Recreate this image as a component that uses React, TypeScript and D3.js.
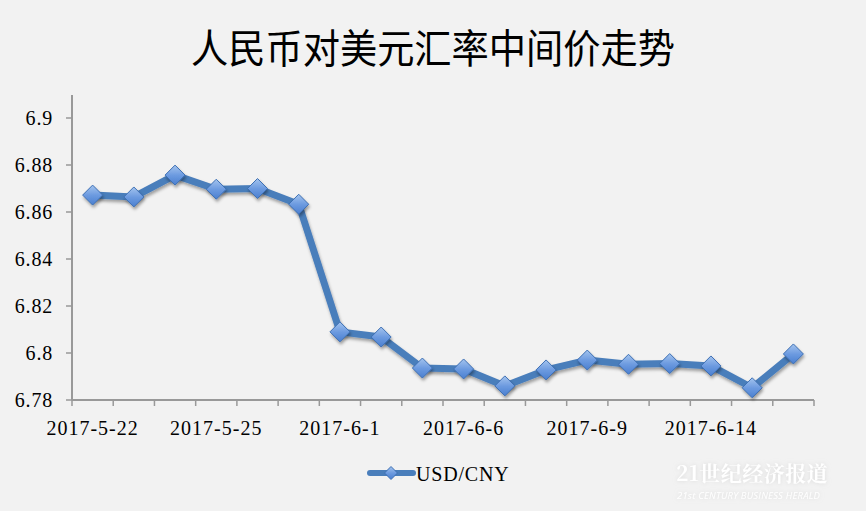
import React from "react";
import * as d3 from "d3";

const title = "人民币对美元汇率中间价走势";
const dates = [
  "2017-5-22", "2017-5-23", "2017-5-24", "2017-5-25", "2017-5-26", "2017-5-31",
  "2017-6-1", "2017-6-2", "2017-6-5", "2017-6-6", "2017-6-7", "2017-6-8",
  "2017-6-9", "2017-6-12", "2017-6-13", "2017-6-14", "2017-6-15", "2017-6-16",
];
const shownLabels = ["2017-5-22", "2017-5-25", "2017-6-1", "2017-6-6", "2017-6-9", "2017-6-14"];
const usdCny = [
  6.8672, 6.8664, 6.8757, 6.8697, 6.87, 6.8633,
  6.809, 6.8068, 6.7936, 6.7932, 6.786, 6.7928,
  6.797, 6.7952, 6.7955, 6.7945, 6.7852, 6.7996,
];
const yTicks = [6.78, 6.8, 6.82, 6.84, 6.86, 6.88, 6.9];
const seriesName = "USD/CNY";

const W = 866, H = 511;
const left = 72, right = 814, top = 95, bottom = 400;

export default function App() {
  const x = d3.scaleBand<string>().domain(dates).range([left, right]);
  const y = d3.scaleLinear().domain([6.78, 6.9]).range([bottom, 118]);
  const cx = (d: string) => (x(d) as number) + x.bandwidth() / 2;
  const line = d3.line<number>().x((_, i) => cx(dates[i])).y((v) => y(v));
  const diamond = (px: number, py: number, r: number) =>
    `M${px},${py - r}L${px + r},${py}L${px},${py + r}L${px - r},${py}Z`;
  const serif = "'Liberation Serif', 'DejaVu Serif', serif";
  const axisColor = "#999999";

  return (
    <svg width={W} height={H} style={{ position: "absolute", left: 0, top: 0, display: "block" }}>
      <defs>
        <linearGradient id="mk" x1="0" y1="0" x2="0" y2="1">
          <stop offset="0" stopColor="#a4c4ee" />
          <stop offset="0.5" stopColor="#6d9be0" />
          <stop offset="1" stopColor="#4a7fd0" />
        </linearGradient>
        <filter id="sh" x="-50%" y="-50%" width="200%" height="200%">
          <feDropShadow dx="1" dy="2.5" stdDeviation="1.6" floodColor="#000" floodOpacity="0.35" />
        </filter>
        <filter id="wm" x="-10%" y="-30%" width="120%" height="160%">
          <feDropShadow dx="0" dy="0" stdDeviation="2" floodColor="#c8c8c8" floodOpacity="0.6" />
        </filter>
      </defs>
      <rect x={0} y={0} width={W} height={H} fill="#f2f2f2" />
      <text x={433} y={60} textAnchor="middle" fontFamily="'Noto Sans CJK SC', sans-serif" fontSize={38} fill="#000"
        transform="translate(433,0) scale(0.98,1.05) translate(-433,0)">
        {title}
      </text>

      {/* y axis */}
      <line x1={left} x2={left} y1={top} y2={bottom} stroke={axisColor} strokeWidth={2} />
      {yTicks.map((t) => (
        <g key={t}>
          <line x1={left - 6} x2={left} y1={y(t)} y2={y(t)} stroke={axisColor} strokeWidth={1.5} />
          <text x={53} y={y(t)} dy="0.34em" textAnchor="end" fontFamily={serif} fontSize={20} letterSpacing={0.8} fill="#000">
            {String(t)}
          </text>
        </g>
      ))}

      {/* x axis */}
      <line x1={left} x2={right} y1={bottom} y2={bottom} stroke={axisColor} strokeWidth={2} />
      {dates.map((d) => (
        <line key={d} x1={x(d) as number} x2={x(d) as number} y1={bottom} y2={bottom + 6} stroke={axisColor} strokeWidth={1.5} />
      ))}
      <line x1={right} x2={right} y1={bottom} y2={bottom + 6} stroke={axisColor} strokeWidth={1.5} />
      {shownLabels.map((d) => (
        <text key={d} x={cx(d)} y={435} textAnchor="middle" fontFamily={serif} fontSize={20} letterSpacing={1} fill="#000">
          {d}
        </text>
      ))}

      {/* series */}
      <path d={line(usdCny) || ""} fill="none" stroke="#4a7ebb" strokeWidth={7} strokeLinejoin="round" filter="url(#sh)" />
      {usdCny.map((v, i) => (
        <path key={i} d={diamond(cx(dates[i]), y(v), 10)} fill="url(#mk)" stroke="#3d6fb3" strokeWidth={1} filter="url(#sh)" />
      ))}

      {/* legend */}
      <line x1={370} x2={413} y1={473} y2={473} stroke="#4a7ebb" strokeWidth={6} strokeLinecap="round" />
      <path d={diamond(391, 473, 6.5)} fill="url(#mk)" stroke="#3d6fb3" strokeWidth={1} />
      <text x={416} y={481} fontFamily={serif} fontSize={20} letterSpacing={0.8} fill="#000">
        {seriesName}
      </text>

      {/* watermark */}
      <g filter="url(#wm)">
        <text x={676} y={481} fontFamily="'Noto Serif CJK SC', 'Noto Sans CJK SC', serif" fontWeight={700} fontSize={21} fill="#ffffff" letterSpacing={0.5}>
          21世纪经济报道
        </text>
        <text x={677} y={499} fontFamily="'Open Sans', 'Noto Sans', sans-serif" fontStyle="italic" fontSize={9.5} fill="#ffffff" letterSpacing={0.2}>
          21st CENTURY BUSINESS HERALD
        </text>
      </g>
    </svg>
  );
}
